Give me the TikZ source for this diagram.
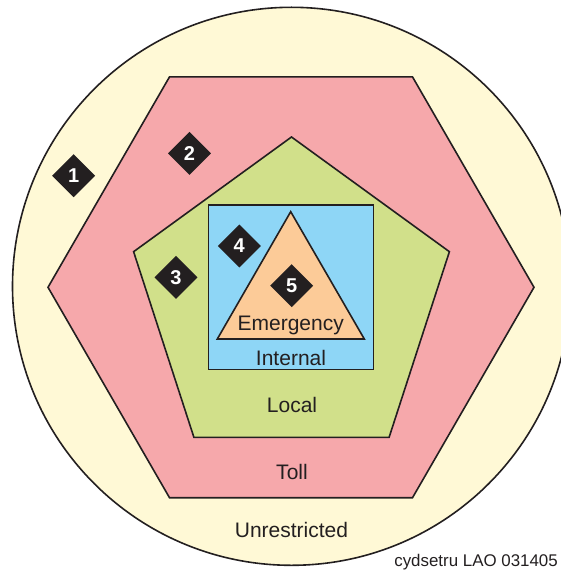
\documentclass[tikz,border=0pt]{standalone}
\usepackage{fontspec}
\setmainfont{Liberation Sans}
\definecolor{ink}{HTML}{231F20}
\definecolor{cream}{HTML}{FFF9D6}
\definecolor{pinkz}{HTML}{F6A8AB}
\definecolor{greenz}{HTML}{D1E08A}
\definecolor{bluez}{HTML}{8ED6F6}
\definecolor{peach}{HTML}{FCCB98}
\tikzset{
  zone/.style={draw=ink, line width=1.6pt, line join=miter},
  lbl/.style={anchor=base, text=ink, font=\fontsize{21}{24}\selectfont, inner sep=0pt},
  badge/.style={fill=ink, draw=none, minimum size=30.4pt, rotate=45, inner sep=0pt},
  badgenum/.style={text=white, font=\fontsize{20}{22}\bfseries\selectfont, inner sep=0pt}
}
\begin{document}
\begin{tikzpicture}[x=1pt,y=-1pt]
\useasboundingbox (0,0) rectangle (560,572);
% circle
\draw[zone, fill=cream] (291.5,286.3) circle[radius=279];
% hexagon
\draw[zone, fill=pinkz] (48,287.3) -- (169.5,76.9) -- (412.5,76.9) -- (534,287.3) -- (412.5,497.7) -- (169.5,497.7) -- cycle;
% pentagon
\draw[zone, fill=greenz] (291.5,137) -- (449.4,251.7) -- (389.1,437.3) -- (193.9,437.3) -- (133.6,251.7) -- cycle;
% square
\draw[zone, fill=bluez] (208.3,205) rectangle (373.3,369.3);
% triangle
\draw[zone, fill=peach] (290.7,211.7) -- (364.3,339) -- (217.3,339) -- cycle;
% labels
\node[lbl] (emergency) at (290.7,330) {Emergency};
\node[lbl] (internal) at (291,365) {Internal};
\node[lbl] (local) at (292,412) {Local};
\node[lbl] (toll) at (292,479) {Toll};
\node[lbl] (unrestricted) at (291.5,537.7) {Unrestricted};
\node[anchor=base east, text=ink, font=\fontsize{16.9}{19}\selectfont, inner sep=0pt] (credit) at (558,566.7) {cydsetru LAO 031405};
% badges
\foreach \n/\px/\py in {1/73.6/175.7, 2/189.5/153.3, 3/176/277.3, 4/239.3/246, 5/291.7/285.7}{
  \node[badge] (b\n) at (\px,\py) {};
  \node[badgenum] (t\n) at (\px,\py) {\n};
}
\end{tikzpicture}
\end{document}
